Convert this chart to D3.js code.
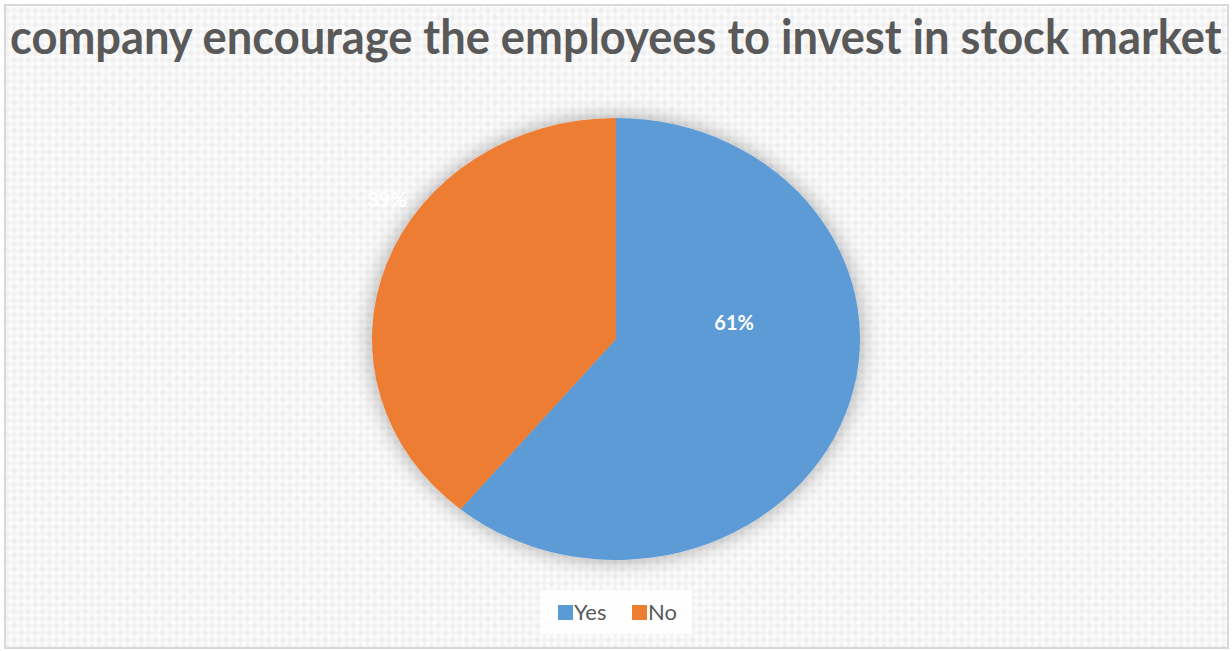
<!DOCTYPE html>
<html>
<head>
<meta charset="utf-8">
<script src="https://cdn.jsdelivr.net/npm/d3@7"></script>
<style>
  html, body { margin: 0; padding: 0; background: #ffffff; }
  svg { display: block; }
</style>
</head>
<body>
<svg id="chart" width="1232" height="651"></svg>
<script>
// Survey answers and their shares (percent)
const categories = ["Yes", "No"];
const shares = [61, 39];
const colors = ["#5b9bd5", "#ed7d31"];
const titleText = "company encourage the employees to invest in stock market";

const W = 1232, H = 651;
const svg = d3.select("#chart");
const defs = svg.append("defs");

// Faint woven background texture
const pat = defs.append("pattern")
  .attr("id", "weave").attr("patternUnits", "userSpaceOnUse")
  .attr("width", 10).attr("height", 10)
  .attr("patternTransform", "rotate(45)");
pat.append("rect").attr("width", 10).attr("height", 10).attr("fill", "#fbfbfb");
pat.append("rect").attr("width", 5).attr("height", 5).attr("fill", "#efefef");
pat.append("rect").attr("x", 5).attr("y", 5).attr("width", 5).attr("height", 5).attr("fill", "#f3f3f3");

// Soft glow around the pie
const f = defs.append("filter").attr("id", "glow")
  .attr("x", "-20%").attr("y", "-20%").attr("width", "140%").attr("height", "140%");
f.append("feGaussianBlur").attr("in", "SourceAlpha").attr("stdDeviation", 10).attr("result", "b");
f.append("feFlood").attr("flood-color", "#000").attr("flood-opacity", 0.34).attr("result", "c");
f.append("feComposite").attr("in", "c").attr("in2", "b").attr("operator", "in").attr("result", "s");
const fm = f.append("feMerge");
fm.append("feMergeNode").attr("in", "s");
fm.append("feMergeNode").attr("in", "SourceGraphic");

// Chart area with border
svg.append("rect").attr("x", 5).attr("y", 5).attr("width", W - 9).attr("height", H - 8)
  .attr("fill", "url(#weave)").attr("stroke", "#d9d9d9").attr("stroke-width", 2);

// Title, fitted to the chart width
const title = svg.append("text")
  .attr("x", 0).attr("y", 0)
  .attr("font-family", "Lato, 'Open Sans', sans-serif")
  .attr("font-weight", "bold")
  .attr("font-size", 47)
  .attr("fill", "#595959")
  .text(titleText);
const tw = title.node().getComputedTextLength();
const targetW = 1212;
title.attr("transform", `translate(${616 - targetW / 2},54) scale(${targetW / tw},1)`);

// Pie (slightly wider than tall)
const cx = 616, cy = 339, ry = 221, rx = 244;
const pie = d3.pie().sort(null).value(d => d)(shares);
const arc = d3.arc().innerRadius(0).outerRadius(ry);

const g = svg.append("g")
  .attr("transform", `translate(${cx},${cy}) scale(${rx / ry},1)`)
  .attr("filter", "url(#glow)");
g.selectAll("path").data(pie).join("path")
  .attr("d", arc)
  .attr("fill", (d, i) => colors[i]);

// Data labels: position by angle fraction within the slice and radius factor
const labelPlace = [{ t: 0.37, r: 0.49 }, { t: 0.6, r: 1.13 }];
pie.forEach((d, i) => {
  const p = labelPlace[i];
  const a = d.startAngle + (d.endAngle - d.startAngle) * p.t;
  const x = cx + Math.sin(a) * p.r * rx;
  const y = cy - Math.cos(a) * p.r * ry;
  svg.append("text")
    .attr("x", x).attr("y", y + 7)
    .attr("text-anchor", "middle")
    .attr("font-family", "Lato, 'Open Sans', sans-serif")
    .attr("font-weight", "bold")
    .attr("font-size", 20)
    .attr("fill", "#ffffff")
    .text(d3.format(".0f")(d.data) + "%");
});

// Legend
const lg = svg.append("g");
lg.append("rect").attr("x", 541).attr("y", 590).attr("width", 151).attr("height", 44)
  .attr("fill", "#ffffff").attr("opacity", 0.9);
const legendX = [558, 632];
categories.forEach((c, i) => {
  lg.append("rect").attr("x", legendX[i]).attr("y", 605).attr("width", 15).attr("height", 15)
    .attr("fill", colors[i]);
  lg.append("text").attr("x", legendX[i] + 16).attr("y", 620)
    .attr("font-family", "Lato, 'Open Sans', sans-serif")
    .attr("font-size", 22)
    .attr("fill", "#595959")
    .text(c);
});
</script>
</body>
</html>
